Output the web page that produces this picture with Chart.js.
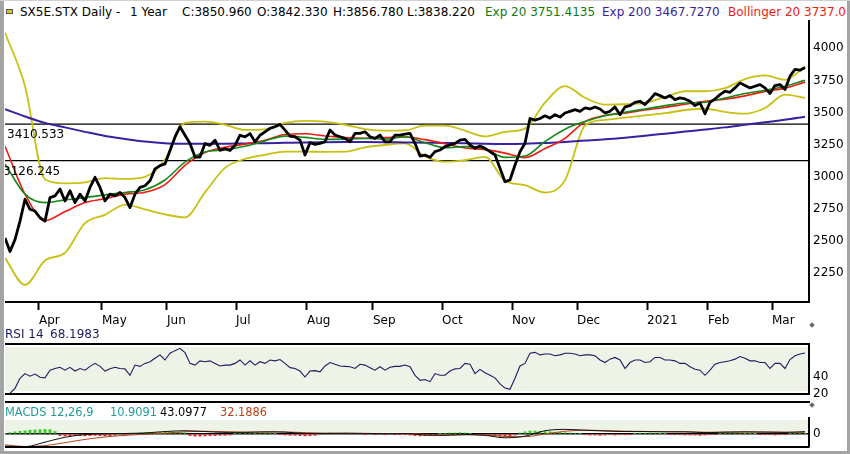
<!DOCTYPE html>
<html>
<head>
<meta charset="utf-8">
<script src="https://cdn.jsdelivr.net/npm/chart.js@4.4.1/dist/chart.umd.min.js"></script>
<style>
  html, body { margin: 0; padding: 0; background: #fff; }
  #frame { position: relative; width: 850px; height: 454px; overflow: hidden; background: #fff;
           font-family: "DejaVu Sans", sans-serif; }
  canvas { position: absolute; }
  .edge { position: absolute; background: #a4a4a4; z-index: 5; }
  .txt { position: absolute; white-space: nowrap; font-size: 12px; line-height: 14px; z-index: 4; }
  .small { font-size: 11.4px; }
  .rule { position: absolute; background: #000; }
  .knob { position: absolute; width: 4px; height: 4px; background: #6a6a6a; transform: rotate(45deg); }
</style>
</head>
<body>
<div id="frame">
  <canvas id="main" width="845" height="310" style="left:5px;top:20px"></canvas>
  <canvas id="rsi" width="845" height="60" style="left:5px;top:340px"></canvas>
  <canvas id="macd" width="845" height="49" style="left:5px;top:405px"></canvas>

  <div class="rule" style="left:5px;top:401px;width:805px;height:2px"></div>
  <div class="knob" style="left:810px;top:323px"></div>
  <div class="knob" style="left:810px;top:403px"></div>

  <div style="position:absolute;left:6px;top:9px;width:5px;height:3px;background:#d8c81c;border:1px solid #555"></div>
  <div class="txt" style="left:20px;top:5px">SX5E.STX Daily -</div>
  <div class="txt" style="left:130px;top:5px">1 Year</div>
  <div class="txt" style="left:182px;top:5px">C:3850.960</div>
  <div class="txt" style="left:257px;top:5px">O:3842.330</div>
  <div class="txt" style="left:333px;top:5px">H:3856.780</div>
  <div class="txt" style="left:407px;top:5px">L:3838.220</div>
  <div class="txt" style="left:485px;top:5px;color:#0f7a14">Exp 20 3751.4135</div>
  <div class="txt" style="left:602px;top:5px;color:#3a1d9c">Exp 200 3467.7270</div>
  <div class="txt" style="left:728px;top:5px;color:#ee1c10">Bollinger 20 3737.0</div>

  <div class="txt" style="left:5px;top:327px;color:#1c1c5c">RSI 14</div>
  <div class="txt" style="left:50px;top:327px;color:#1c1c5c">68.1983</div>

  <div class="txt small" style="left:5px;top:405px;color:#1f9a98">MACDS 12,26,9</div>
  <div class="txt small" style="left:110px;top:405px;color:#1f9a98">10.9091</div>
  <div class="txt small" style="left:160px;top:405px;color:#000">43.0977</div>
  <div class="txt small" style="left:220px;top:405px;color:#b5441c">32.1886</div>

  <div class="edge" style="left:0;top:0;width:4px;height:454px"></div>
  <div class="edge" style="left:847px;top:0;width:3px;height:454px"></div>
  <div class="edge" style="left:0;top:451px;width:850px;height:3px"></div>
  <div class="edge" style="left:0;top:0;width:850px;height:1px;background:#d0d0d0"></div>
</div>

<script>
// x axis is a sample index, one sample per 5 px of the original picture
const X_MAX = 160.8;
const SMOOTH_STEP = 4;

const monthPos = [6.8, 19.4, 32.4, 46.2, 60.4, 73.6, 87.4, 101.4, 114.4, 128.4, 140.6, 153.4];
const monthLabels = ['Apr', 'May', 'Jun', 'Jul', 'Aug', 'Sep', 'Oct', 'Nov', 'Dec', '2021', 'Feb', 'Mar'];
const priceTicks = [2250, 2500, 2750, 3000, 3250, 3500, 3750, 4000];
const levels = [3410.533, 3126.245];

const close = [
  2525, 2420, 2512, 2656, 2826, 2748, 2735, 2682, 2656, 2839,
  2852, 2905, 2813, 2892, 2800, 2866, 2813, 2918, 2997, 2918,
  2813, 2866, 2852, 2879, 2839, 2761, 2866, 2918, 2931, 2970,
  3062, 3088, 3101, 3206, 3311, 3390, 3324, 3259, 3154, 3154,
  3259, 3245, 3285, 3206, 3219, 3206, 3245, 3324, 3311, 3337,
  3272, 3324, 3350, 3377, 3390, 3408, 3364, 3317, 3312, 3286,
  3170, 3266, 3253, 3261, 3273, 3364, 3325, 3312, 3299, 3273,
  3338, 3338, 3351, 3312, 3299, 3325, 3273, 3273, 3325, 3325,
  3333, 3338, 3261, 3162, 3170, 3152, 3196, 3209, 3235, 3248,
  3261, 3286, 3292, 3248, 3222, 3240, 3222, 3196, 3170, 3067,
  2963, 2976, 3092, 3196, 3261, 3454, 3441, 3454, 3475, 3457,
  3484, 3465, 3497, 3510, 3523, 3510, 3536, 3528, 3544, 3528,
  3497, 3510, 3544, 3484, 3544, 3554, 3580, 3588, 3562, 3601,
  3648, 3632, 3614, 3632, 3601, 3614, 3606, 3588, 3554, 3575,
  3491, 3580, 3606, 3640, 3666, 3658, 3692, 3731, 3710, 3692,
  3705, 3718, 3692, 3648, 3710, 3718, 3679, 3783, 3836, 3830,
  3851
];

// smooth overlays, one value every SMOOTH_STEP samples
const ema20 = [
  3101, 2866, 2800, 2821, 2839, 2860, 2879, 2900, 2976, 3115,
  3193, 3211, 3238, 3280, 3317, 3307, 3292, 3294, 3299, 3294,
  3312, 3266, 3227, 3235, 3217, 3152, 3162, 3275, 3371, 3431,
  3476, 3502, 3528, 3554, 3575, 3580, 3614, 3648, 3674, 3705,
  3752
];
const ema200 = [
  3526, 3470, 3420, 3385, 3350, 3318, 3295, 3275, 3262, 3258,
  3257, 3258, 3260, 3262, 3265, 3268, 3270, 3271, 3271, 3270,
  3268, 3266, 3264, 3262, 3258, 3256, 3258, 3263, 3272, 3282,
  3292, 3305, 3320, 3336, 3352, 3368, 3385, 3405, 3425, 3445,
  3468
];
const bollMid = [
  3238, 2866, 2660, 2730, 2800, 2830, 2866, 2880, 2940, 3090,
  3190, 3230, 3255, 3285, 3330, 3335, 3318, 3305, 3300, 3305,
  3310, 3290, 3258, 3225, 3212, 3185, 3150, 3220, 3300, 3430,
  3478, 3495, 3520, 3540, 3565, 3588, 3605, 3630, 3665, 3690,
  3737
];
const bollUp = [
  4123, 3704, 2980, 2950, 2957, 2990, 2984, 3000, 3135, 3420,
  3430, 3405, 3365, 3370, 3420, 3436, 3430, 3405, 3372, 3360,
  3362, 3398, 3398, 3360, 3315, 3350, 3375, 3578, 3705, 3615,
  3562, 3565, 3575, 3620, 3666, 3666, 3690, 3760, 3789, 3755,
  3855
];
const bollLow = [
  2368, 2160, 2350, 2410, 2640, 2705, 2785, 2748, 2708, 2685,
  2880, 3070, 3140, 3172, 3196, 3196, 3195, 3196, 3230, 3248,
  3260, 3160, 3118, 3130, 3155, 2970, 2935, 2878, 2975, 3400,
  3444, 3460, 3478, 3495, 3520, 3530, 3505, 3492, 3536, 3640,
  3614
];

const rsi = [
  19, 21, 26.7, 38.5, 44, 41, 43.5, 39.6, 39, 48,
  50, 51.4, 48, 51.4, 47, 50, 48, 52.5, 56, 52.5,
  47, 49.6, 51.4, 50, 49.6, 42, 54, 52.5, 56, 58,
  62, 66, 60, 68, 71, 73.7, 68.6, 56, 54, 59,
  58, 59, 56, 53, 54, 54, 56, 60, 54, 59,
  54, 58, 56, 60, 59, 60.5, 56, 51, 50, 47,
  40, 47, 47.5, 46, 53, 57, 55, 53, 52.5, 52,
  50, 55, 54, 51, 48, 52, 48, 51.4, 52.5, 52.5,
  54, 52, 42, 36, 37, 34.5, 44, 42, 42, 47,
  49.6, 50, 56, 55, 44, 49, 45, 42, 39, 32,
  27, 25.5, 38.5, 53, 56, 68, 69, 66, 67, 67,
  65, 66, 68, 68, 67, 65, 66, 66, 65, 60,
  57, 61, 63, 60, 50, 57, 60, 60, 57, 58,
  63, 63, 60, 60, 59, 56, 56, 52, 49, 48,
  42, 48, 55, 57, 58, 59, 61, 64, 62, 59,
  59, 57, 57, 50, 56, 56, 50, 60.5, 65, 67,
  68.2
];
const rsiTicks = [20, 40];
const rsiBand = [23.5, 75.3];

const macdHist = [
  10, 25, 40, 50, 60, 70, 75, 80, 85, 80,
  45, -30, -35, -35, -30, -30, -35, -30, -25, -30,
  -35, -30, -25, 15, -10, 15, 10, 20, 25, 30,
  30, 35, 35, 40, 35, 30, 20, -30, -40, -40,
  -35, -30, -30, -25, -25, -20, 10, 15, 15, 20,
  10, 15, 20, 15, 10, -10, -20, -25, -25, -30,
  -35, -30, -25, 10, 15, 20, 15, 10, 15, 10,
  15, 10, -10, 10, -10, 5, -10, 10, -5, -10,
  -15, -20, -30, -35, -30, -30, -25, 10, 15, 20,
  20, 25, 20, 10, -10, -15, -20, -25, -30, -40,
  -45, -40, -20, 20, 40, 55, 55, 50, 45, 40,
  35, 30, 25, 20, 15, 10, -15, -20, -20, -25,
  -20, -15, -20, -15, -10, -10, 10, 15, 15, 20,
  15, 10, 10, -10, -15, -15, -20, -20, -20, -25,
  -20, -15, -10, 10, 15, 15, 20, 15, 10, 10,
  5, -10, -15, -15, -20, -15, -10, 10, 15, 15,
  11
];
const macdLine = [
  -225, -235, -150, -60, -10, 5, 10, 20, 45, 60,
  45, 30, 30, 40, 35, 10, 10, 15, 10, 5,
  10, -20, -25, -10, -25, -70, -40, 60, 85, 70,
  55, 45, 45, 40, 40, 25, 35, 40, 35, 30,
  43
];
const macdSignal = [
  -200, -230, -215, -160, -100, -55, -25, -5, 15, 40,
  50, 42, 35, 35, 37, 25, 15, 13, 12, 8,
  8, -5, -18, -15, -18, -45, -50, 0, 50, 70,
  62, 52, 47, 42, 41, 33, 32, 36, 36, 33,
  32
];
const macdTicks = [0];
const macdBand = [37, 258];

function pts(values, step) {
  return values.map((v, i) => ({ x: i * step, y: v }));
}

Chart.defaults.font.family = '"DejaVu Sans", sans-serif';
Chart.defaults.font.size = 12;
Chart.defaults.color = '#000';
Chart.defaults.animation = false;
Chart.defaults.plugins.legend.display = false;
Chart.defaults.plugins.tooltip.enabled = false;

// fixed-width right axis so the three panels line up
function fixRight(ax) {
  ax.width = 41;
  ax.paddingTop = 0;
  ax.paddingBottom = 0;
}
const plainTick = v => String(v);

const panelDeco = {
  id: 'panelDeco',
  beforeDraw(chart, args, opts) {
    if (!opts.band) return;
    const {ctx, chartArea: a, scales: {y}} = chart;
    const top = y.getPixelForValue(opts.band[1]);
    const bottom = y.getPixelForValue(opts.band[0]);
    ctx.save();
    ctx.fillStyle = opts.bandColor;
    ctx.fillRect(a.left, top, a.right - a.left, bottom - top);
    ctx.restore();
  },
  afterDraw(chart, args, opts) {
    const {ctx, chartArea: a} = chart;
    ctx.save();
    ctx.strokeStyle = '#000';
    ctx.lineWidth = 2;
    ctx.beginPath();
    if (opts.top) { ctx.moveTo(a.left, a.top); ctx.lineTo(a.right, a.top); }
    if (opts.bottom) { ctx.moveTo(a.left, a.bottom); ctx.lineTo(a.right, a.bottom); }
    ctx.stroke();
    ctx.restore();
  }
};

const levelLabels = {
  id: 'levelLabels',
  afterDatasetsDraw(chart) {
    const {ctx, scales: {y}} = chart;
    const textX = [2, -2];
    ctx.save();
    ctx.font = '12px "DejaVu Sans", sans-serif';
    ctx.fillStyle = '#000';
    levels.forEach((v, i) => ctx.fillText(v.toFixed(3), textX[i], y.getPixelForValue(v) + 14));
    ctx.restore();
  }
};

const smoothLine = (label, data, color, width) => ({
  label, data: pts(data, SMOOTH_STEP), borderColor: color, borderWidth: width,
  pointRadius: 0, cubicInterpolationMode: 'monotone', fill: false
});

new Chart(document.getElementById('main'), {
  type: 'line',
  data: {
    datasets: [
      { label: 'SX5E.STX', data: pts(close, 1), borderColor: '#000', borderWidth: 2.8,
        pointRadius: 0, tension: 0, borderJoinStyle: 'round' },
      smoothLine('Exp 20', ema20, '#138a1a', 1.6),
      smoothLine('Bollinger 20', bollMid, '#f01a12', 1.6),
      smoothLine('Exp 200', ema200, '#3a1fa0', 2),
      smoothLine('Upper', bollUp, '#c8c012', 1.8),
      smoothLine('Lower', bollLow, '#c8c012', 1.8),
      ...levels.map(v => ({ label: String(v), data: [{x: 0, y: v}, {x: X_MAX, y: v}],
        borderColor: '#000', borderWidth: 1.2, pointRadius: 0 }))
    ]
  },
  options: {
    responsive: false,
    layout: { padding: 0 },
    scales: {
      x: {
        type: 'linear', min: 0, max: X_MAX,
        afterBuildTicks: ax => { ax.ticks = monthPos.map(v => ({ value: v })); },
        afterFit: ax => { ax.height = 28; ax.paddingLeft = 0; ax.paddingRight = 0; },
        ticks: { callback: (v, i) => monthLabels[i], align: 'start', padding: 4,
                 maxRotation: 0, autoSkip: false },
        grid: { drawOnChartArea: false, drawTicks: true, tickLength: 8, tickWidth: 2, tickColor: '#000' },
        border: { display: true, color: '#000', width: 2 }
      },
      y: {
        position: 'right', min: 2027, max: 4220,
        afterBuildTicks: ax => { ax.ticks = priceTicks.map(v => ({ value: v })); },
        afterFit: fixRight,
        ticks: { padding: 4, callback: plainTick },
        grid: { drawOnChartArea: false, drawTicks: false },
        border: { display: true, color: '#000', width: 2 }
      }
    }
  },
  plugins: [levelLabels]
});

new Chart(document.getElementById('rsi'), {
  type: 'line',
  data: {
    datasets: [{ label: 'RSI 14', data: pts(rsi, 1), borderColor: '#1e1e5e', borderWidth: 1.1,
                 pointRadius: 0, tension: 0 }]
  },
  options: {
    responsive: false,
    layout: { padding: { top: 4, bottom: 6, left: 0, right: 0 } },
    scales: {
      x: { type: 'linear', min: 0, max: X_MAX, display: false },
      y: {
        position: 'right', min: 20, max: 78.8,
        afterBuildTicks: ax => { ax.ticks = rsiTicks.map(v => ({ value: v })); },
        afterFit: fixRight,
        ticks: { padding: 4, callback: plainTick },
        grid: { drawOnChartArea: false, drawTicks: false },
        border: { display: true, color: '#000', width: 2 }
      }
    },
    plugins: { panelDeco: { band: rsiBand, bandColor: '#eef3e8', top: true, bottom: true } }
  },
  plugins: [panelDeco]
});

new Chart(document.getElementById('macd'), {
  type: 'bar',
  data: {
    datasets: [
      { type: 'line', label: 'MACD', data: pts(macdLine, SMOOTH_STEP), borderColor: '#111',
        borderWidth: 1, pointRadius: 0, cubicInterpolationMode: 'monotone' },
      { type: 'line', label: 'Signal', data: pts(macdSignal, SMOOTH_STEP), borderColor: '#b5441c',
        borderWidth: 1, pointRadius: 0, cubicInterpolationMode: 'monotone' },
      { type: 'bar', label: 'Hist', data: pts(macdHist, 1), barThickness: 2.4, grouped: false,
        backgroundColor: c => (c.raw && c.raw.y >= 0 ? '#3ccc2a' : '#ee2020') }
    ]
  },
  options: {
    responsive: false,
    layout: { padding: { top: 13, bottom: 7, left: 0, right: 0 } },
    scales: {
      x: { type: 'linear', min: 0, max: X_MAX, display: false, offset: false },
      y: {
        position: 'right', min: -240, max: 295,
        afterBuildTicks: ax => { ax.ticks = macdTicks.map(v => ({ value: v })); },
        afterFit: fixRight,
        ticks: { padding: 4, callback: plainTick },
        grid: { drawOnChartArea: true, drawTicks: false, color: '#000', lineWidth: 1.5 },
        border: { display: true, color: '#000', width: 2 }
      }
    },
    plugins: { panelDeco: { band: macdBand, bandColor: '#eef3e8', top: false, bottom: true } }
  },
  plugins: [panelDeco]
});
</script>
</body>
</html>
